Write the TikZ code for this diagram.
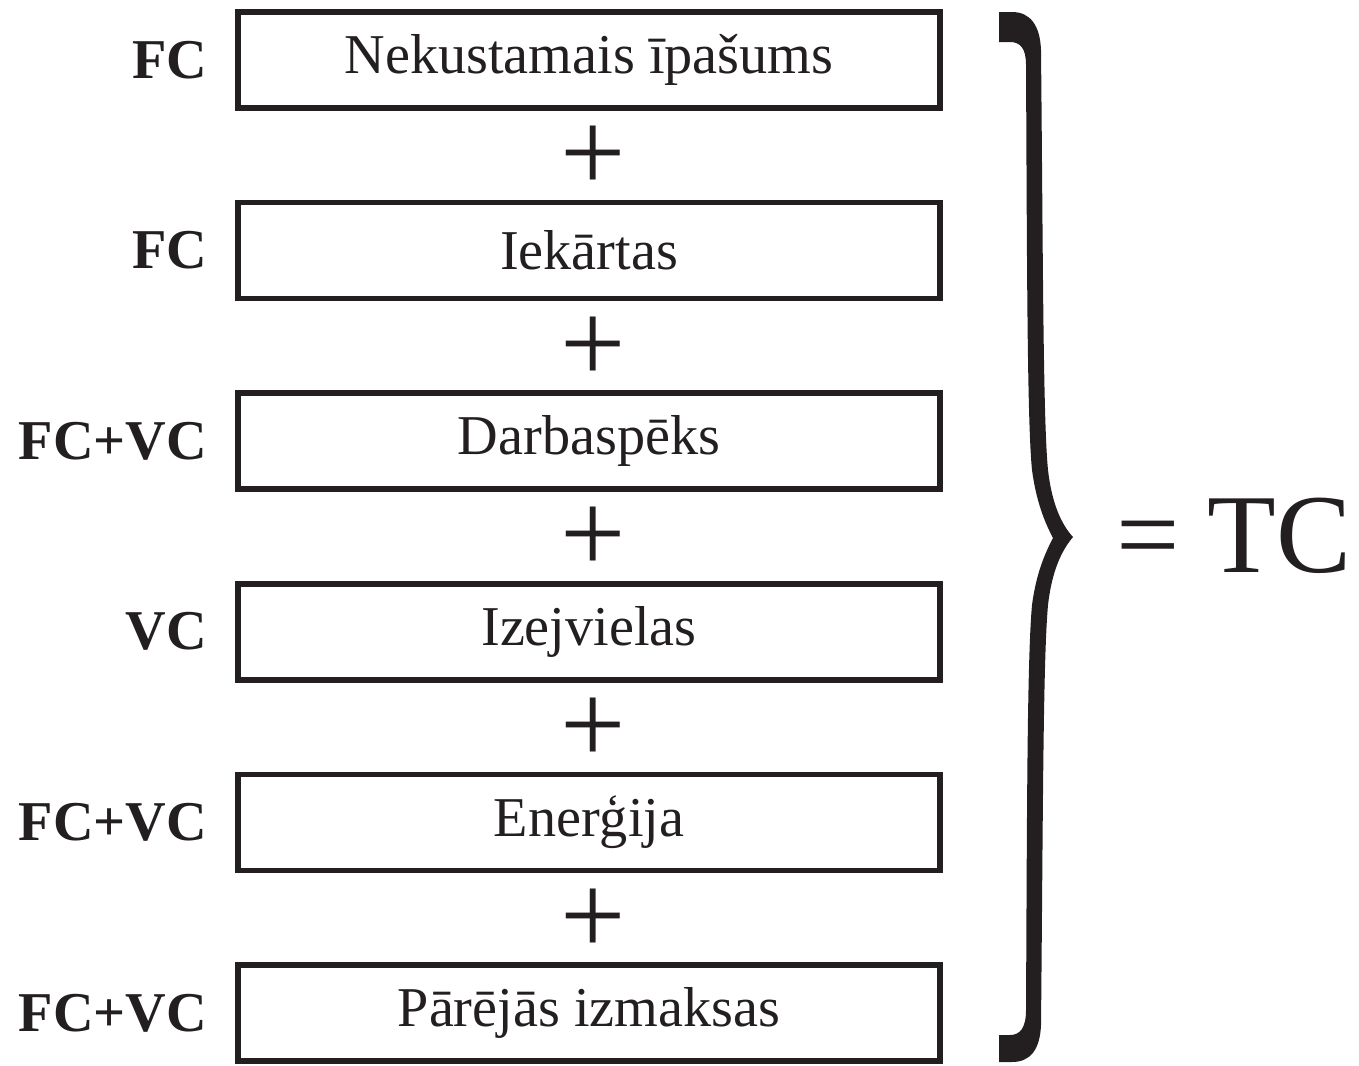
\documentclass[tikz,border=0pt]{standalone}
\usepackage{fontspec}
\setmainfont{Liberation Serif}
\usetikzlibrary{positioning}
\definecolor{ink}{HTML}{231F20}

\begin{document}
\begin{tikzpicture}[x=0.02cm,y=-0.02cm,
  costbox/.style={draw=ink,line width=3.1pt,minimum width=14.04cm,minimum height=1.92cm,
    inner sep=0pt,text=ink,font=\fontsize{32}{38}\selectfont},
  kind/.style={inner sep=0pt,text=ink,font=\fontsize{32}{38}\selectfont\bfseries},
  plussign/.style={inner sep=0pt,text=ink,font=\fontsize{66}{66}\selectfont}]
  \useasboundingbox (0,0) rectangle (1359,1065);
  % cost items with their kind
  \foreach \i/\t/\k in {1/{Nekustamais īpašums}/FC,
                        2/{Iekārtas}/FC,
                        3/{Darbaspēks}/FC+VC,
                        4/{Izejvielas}/VC,
                        5/{Enerģija}/FC+VC,
                        6/{Pārējās izmaksas}/FC+VC}
  {
    \node[costbox] (box\i) at (589,{60+190.6*(\i-1)}) {\t};
    \node[kind,left=0.56cm of box\i] (kind\i) {\k};
  }
  \foreach \i in {1,...,5}
    \node[plussign] (plus\i) at (593,{159+190.6*(\i-1)}) {+};
  % brace
  \fill[ink] (999,12) -- (1012,12) .. controls (1030,12) and (1040,25) .. (1041,50)
    .. controls (1043,250) and (1043,420) .. (1048,470)
    .. controls (1052,505) and (1062,525) .. (1073,537)
    .. controls (1062,550) and (1052,570) .. (1048,605)
    .. controls (1043,660) and (1043,820) .. (1041,1025)
    .. controls (1040,1050) and (1030,1062) .. (1012,1062)
    -- (999,1062) -- (999,1035) -- (1010,1035)
    .. controls (1020,1035) and (1026,1028) .. (1026,1010)
    .. controls (1027,820) and (1027,660) .. (1032,605)
    .. controls (1036,575) and (1044,555) .. (1053,538)
    .. controls (1044,521) and (1036,500) .. (1032,470)
    .. controls (1027,420) and (1027,250) .. (1026,65)
    .. controls (1026,48) and (1020,42) .. (1010,42)
    -- (999,42) -- cycle;
  \node[anchor=west,inner sep=0pt,text=ink,font=\fontsize{64}{64}\selectfont] (total) at (1116,536) {= TC};
\end{tikzpicture}
\end{document}
